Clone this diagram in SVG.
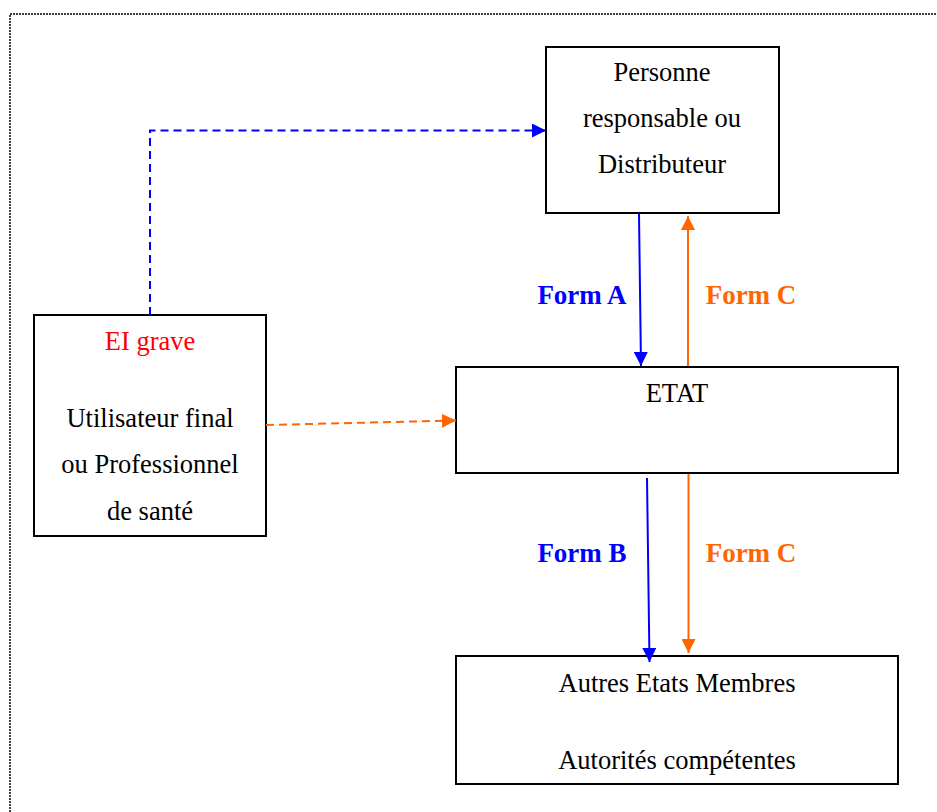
<svg xmlns="http://www.w3.org/2000/svg" width="937" height="812" viewBox="0 0 937 812">
<style>
.box{fill:#fff;stroke:#000;stroke-width:2}
.t{font-family:"Liberation Serif","Times New Roman",serif;font-size:26.5px;fill:#000;text-anchor:middle}
.lbl{font-family:"Liberation Serif","Times New Roman",serif;font-size:27px;font-weight:bold;text-anchor:middle}
.blue{stroke:#0000ff;stroke-width:2;fill:none}
.orange{stroke:#ff6600;stroke-width:2;fill:none}
.dash{stroke-dasharray:8 5}
</style>
<defs>
<marker id="ab" viewBox="0 0 14 14" refX="14" refY="7" markerUnits="userSpaceOnUse" markerWidth="14" markerHeight="14" orient="auto"><path d="M0,0 L14,7 L0,14 Z" fill="#0000ff"/></marker>
<marker id="ao" viewBox="0 0 14 14" refX="14" refY="7" markerUnits="userSpaceOnUse" markerWidth="14" markerHeight="14" orient="auto"><path d="M0,0 L14,7 L0,14 Z" fill="#ff6600"/></marker>
</defs>
<rect width="937" height="812" fill="#fff"/>
<rect x="10" y="14" width="960" height="840" fill="none" stroke="#000" stroke-width="1.5" stroke-dasharray="2 1"/>

<g id="personne">
<rect class="box" x="546" y="47" width="233" height="166"/>
<text class="t" x="662" y="81">Personne</text>
<text class="t" x="662" y="127">responsable ou</text>
<text class="t" x="662" y="173">Distributeur</text>
</g>
<g id="utilisateur">
<rect class="box" x="34" y="315" width="232" height="221"/>
<text class="t" x="150" y="350" style="fill:#ff0000">EI grave</text>
<text class="t" x="150" y="427">Utilisateur final</text>
<text class="t" x="150" y="473">ou Professionnel</text>
<text class="t" x="150" y="520">de santé</text>
</g>
<g id="etat">
<rect class="box" x="456" y="367" width="442" height="106"/>
<text class="t" x="677" y="402">ETAT</text>
</g>
<g id="autres">
<rect class="box" x="456" y="656" width="442" height="128"/>
<text class="t" x="677" y="692">Autres Etats Membres</text>
<text class="t" x="677" y="769">Autorités compétentes</text>
</g>

<g id="connectors">
<path class="blue dash" d="M150,315 V130.5 H546" marker-end="url(#ab)"/>
<path class="orange dash" d="M266,425 L456,420.5" marker-end="url(#ao)"/>
<path class="blue" d="M639,214 L641,366" marker-end="url(#ab)"/>
<path class="orange" d="M688,366 L688,216" marker-end="url(#ao)"/>
<path class="blue" d="M647,478 L649.5,662" marker-end="url(#ab)"/>
<path class="orange" d="M688.5,474 L688.5,653" marker-end="url(#ao)"/>
<text class="lbl" x="582" y="304" fill="#0000ff">Form A</text>
<text class="lbl" x="751" y="304" fill="#ff6600">Form C</text>
<text class="lbl" x="582" y="562" fill="#0000ff">Form B</text>
<text class="lbl" x="751" y="562" fill="#ff6600">Form C</text>
</g>
</svg>
